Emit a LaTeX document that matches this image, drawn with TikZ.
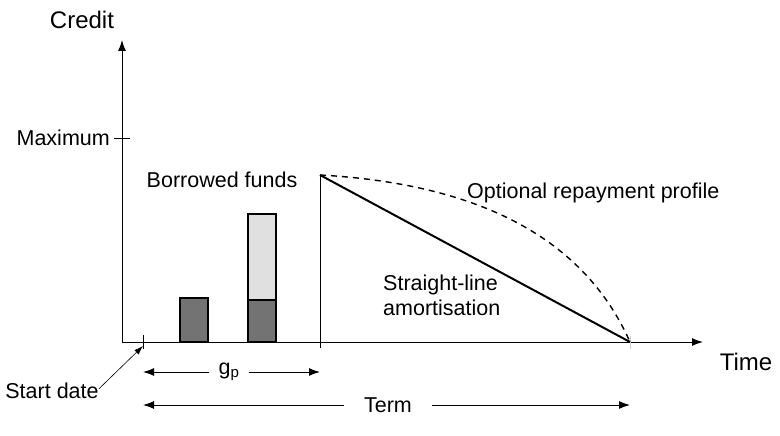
\documentclass[tikz,border=0pt]{standalone}
\usepackage{fontspec}
\setmainfont{Liberation Sans}
\usetikzlibrary{arrows.meta}
\definecolor{darkbar}{RGB}{115,115,115}
\definecolor{lightbar}{RGB}{224,224,224}
\tikzstyle{txt} = [font=\fontsize{21.5}{25}\selectfont, inner sep=0pt]
\tikzstyle{bigtxt} = [font=\fontsize{24}{28}\selectfont, inner sep=0pt]
\tikzstyle{axisline} = [draw, line width=1pt, -{Latex[length=11pt,width=8pt]}]
\tikzstyle{dimline} = [draw, line width=1pt, -{Latex[length=11pt,width=8pt]}]
\tikzstyle{bar} = [draw, line width=1.3pt]

\begin{document}
\begin{tikzpicture}[x=1pt, y=-1pt]
		\useasboundingbox (0,0) rectangle (780,436);
		% axes
		\coordinate (O) at (122,342);
		\coordinate (ytop) at (122,40);
		\coordinate (xend) at (703,342);
		\coordinate (start) at (143,342);
		\coordinate (startfoot) at (143,346);
		\coordinate (peak) at (320,175);
		\coordinate (peakfoot) at (320,348);
		\coordinate (payoff) at (630,342);
		\path [axisline] (O) -- (ytop);
		\path [axisline] (O) -- (xend);
		\draw [line width=1pt] (114,138) -- (130,138);
		\draw [line width=1pt] (143,335) -- (143,349);
		\draw [line width=1pt] (peak) -- (peakfoot);
		\draw [line width=1pt, gray!40] (630,336) -- (630,349);

		\node [bigtxt] (credit) at (82,20) {Credit};
		\node [txt, anchor=east] (max) at (110,138) {Maximum};
		\node [bigtxt] (time) at (746,362) {Time};
		\node [txt] (borrowed) at (222,180) {Borrowed funds};
		\node [txt, anchor=west] (optional) at (467,193) {Optional repayment profile};
		\node [txt, align=left, anchor=west] (straight) at (383,295) {Straight-line\\amortisation};
		\node [txt] (startdate) at (52,391) {Start date};

		% bars
		\draw [bar, fill=darkbar] (180,298) rectangle (208,342);
		\draw [bar, fill=lightbar] (248,214) rectangle (276,300);
		\draw [bar, fill=darkbar] (248,300) rectangle (276,342);

		% repayment
		\draw [line width=2pt] (peak) -- (payoff);
		\draw [line width=1.4pt, dash pattern=on 6pt off 5pt] (peak) .. controls (500,185) and (590,252) .. (payoff);

		% start date pointer
		\draw [line width=0.6pt, -{Latex[length=9pt,width=6pt]}] (startdate.north east) ++(0,6) -- (startfoot);

		% grace period and term
		\node [txt, inner xsep=9pt] (gp) at (229,372) {g\textsubscript{p}};
		\node [txt, inner xsep=20pt] (term) at (388,405) {Term};
		\path [dimline] (gp.west) -- (start |- gp);
		\path [dimline] (gp.east) -- (peak |- gp);
		\path [dimline] (term.west) -- (start |- term);
		\path [dimline] (term.east) -- (payoff |- term);
	\end{tikzpicture}
\end{document}
